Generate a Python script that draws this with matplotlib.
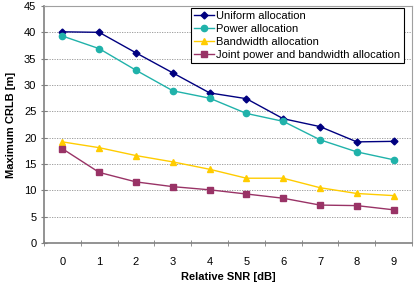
import numpy as np
import matplotlib
matplotlib.use("Agg")
import matplotlib.pyplot as plt

# данные с картинки
snr = [0, 1, 2, 3, 4, 5, 6, 7, 8, 9]
uniform = [40.1, 40.0, 36.1, 32.3, 28.5, 27.4, 23.6, 22.1, 19.2, 19.3]
power = [39.3, 36.9, 32.8, 28.9, 27.5, 24.6, 23.1, 19.6, 17.3, 15.8]
bandwidth = [19.2, 18.1, 16.6, 15.4, 14.0, 12.3, 12.3, 10.5, 9.4, 9.0]
joint = [17.9, 13.4, 11.6, 10.7, 10.1, 9.3, 8.5, 7.2, 7.1, 6.3]

names = ["Uniform allocation", "Power allocation", "Bandwidth allocation",
         "Joint power and bandwidth allocation"]

plt.rcParams['font.family'] = ['Liberation Sans', 'DejaVu Sans']

fig = plt.figure(figsize=(4.15, 2.82), dpi=100)
ax = fig.add_axes([44/415, 1 - 243/282, 368/415, 237/282])

ax.plot(snr, uniform, color="#000080", marker="D", markersize=3.5, lw=1, label=names[0])
ax.plot(snr, power, color="#20B2AA", marker="o", markersize=4.5, lw=1, label=names[1])
ax.plot(snr, bandwidth, color="#FFCC00", marker="^", markersize=4.5, lw=1, label=names[2])
ax.plot(snr, joint, color="#993366", marker="s", markersize=4, lw=1, label=names[3])

ax.set_xlim(-0.5, 9.5)
ax.set_ylim(0, 45)
ax.set_yticks(np.arange(0, 46, 5))
ax.set_xticks(snr)
ax.set_xticks(np.arange(-0.5, 10, 1), minor=True)
ax.tick_params(axis="x", which="major", length=0, labelsize=8, pad=10)
ax.tick_params(axis="x", which="minor", length=4, direction="inout", color="#808080")
ax.tick_params(axis="y", labelsize=8, length=4, direction="inout", color="#808080")

ax.grid(axis="y", color="#909090", linestyle=(0, (1.5, 1.5)), linewidth=0.6)
ax.set_axisbelow(True)
for s in ["top", "right"]:
    ax.spines[s].set_color("#a0a0a0")
for s in ["left", "bottom"]:
    ax.spines[s].set_color("#808080")
    ax.spines[s].set_linewidth(1.2)

ax.set_xlabel("Relative SNR [dB]", fontsize=8, fontweight="bold", labelpad=4)
ax.set_ylabel("Maximum CRLB [m]", fontsize=8, fontweight="bold", labelpad=6)

leg = ax.legend(loc="upper right", bbox_to_anchor=(0.977, 0.993), fontsize=8,
                frameon=True, fancybox=False, edgecolor="black", framealpha=1,
                handlelength=1.8, handletextpad=0.2, borderpad=0.3, labelspacing=0.27,
                borderaxespad=0)
leg.get_frame().set_linewidth(0.8)

fig.savefig("out.png", dpi=100)
